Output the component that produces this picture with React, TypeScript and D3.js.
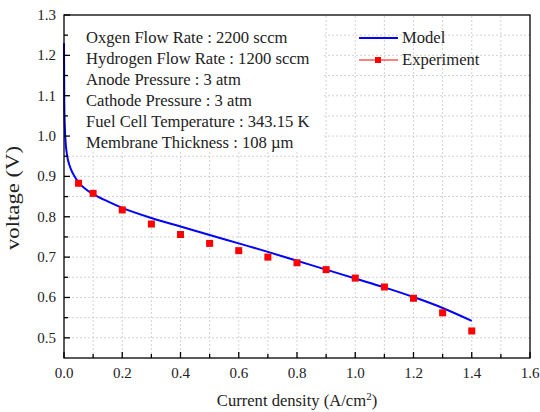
import React from "react";
import * as d3 from "d3";

// experiment points
const expX = [0.05, 0.1, 0.2, 0.3, 0.4, 0.5, 0.6, 0.7, 0.8, 0.9, 1.0, 1.1, 1.2, 1.3, 1.4];
const expY = [0.883, 0.858, 0.817, 0.782, 0.756, 0.734, 0.716, 0.700, 0.686, 0.669, 0.648, 0.626, 0.598, 0.562, 0.517];

// model curve
const modelX = [0, 0.001, 0.003, 0.005, 0.01, 0.02, 0.03, 0.05, 0.075, 0.1, 0.15, 0.2, 0.3, 0.4, 0.5, 0.6, 0.7, 0.8, 0.9, 1.0, 1.1, 1.2, 1.3, 1.4];
const modelY = [1.23, 1.08, 1.02, 0.99, 0.955, 0.925, 0.908, 0.885, 0.868, 0.856, 0.838, 0.822, 0.797, 0.776, 0.755, 0.734, 0.713, 0.691, 0.669, 0.647, 0.625, 0.601, 0.574, 0.542];

const xTicks = [0, 0.2, 0.4, 0.6, 0.8, 1.0, 1.2, 1.4, 1.6];
const xMinor = [0.1, 0.3, 0.5, 0.7, 0.9, 1.1, 1.3, 1.5];
const yTicks = [0.5, 0.6, 0.7, 0.8, 0.9, 1.0, 1.1, 1.2, 1.3];
const yMinor = [0.55, 0.65, 0.75, 0.85, 0.95, 1.05, 1.15, 1.25];

const notes = [
  "Oxgen Flow Rate : 2200 sccm",
  "Hydrogen Flow Rate : 1200 sccm",
  "Anode Pressure : 3 atm",
  "Cathode Pressure : 3 atm",
  "Fuel Cell Temperature : 343.15 K",
  "Membrane Thickness : 108 \u00b5m",
];

const W = 540, H = 412;
const m = { left: 64, right: 10, top: 15, bottom: 54 };
const font = "Liberation Serif";

export default function App() {
  const x = d3.scaleLinear().domain([0, 1.6]).range([m.left, W - m.right]);
  const y = d3.scaleLinear().domain([0.45, 1.3]).range([H - m.bottom, m.top]);
  const x0 = x(0), x1 = x(1.6), y0 = y(0.45), y1 = y(1.3);

  const line = d3.line<number>()
    .x((_, i) => x(modelX[i]))
    .y((d) => y(d))
    .curve(d3.curveMonotoneX);

  const gridX = [...xTicks, ...xMinor].filter((v) => v > 0 && v < 1.6);
  const gridY = [...yTicks, ...yMinor].filter((v) => v < 1.3);

  return (
    <svg width={W} height={H} style={{ position: "absolute", left: 0, top: 0 }}>
      <rect width={W} height={H} fill="#fff" />
      {/* grid */}
      <g stroke="#c8c8c8" strokeWidth={0.8} strokeDasharray="2,2">
        {gridX.map((v) => <line key={"gx" + v} x1={x(v)} x2={x(v)} y1={y0} y2={y1} />)}
        {gridY.map((v) => <line key={"gy" + v} x1={x0} x2={x1} y1={y(v)} y2={y(v)} />)}
      </g>
      {/* annotation box hides grid */}
      <rect x={x0} y={y1} width={x(0.89) - x0} height={y(0.965) - y1} fill="#fff" />
      {/* model */}
      <path d={line(modelY) || ""} fill="none" stroke="#0000ff" strokeWidth={2} />
      {/* experiment */}
      {expX.map((v, i) => (
        <rect key={"e" + i} x={x(v) - 3.5} y={y(expY[i]) - 3.5} width={7} height={7} fill="#ff0000" />
      ))}
      {/* frame */}
      <rect x={x0} y={y1} width={x1 - x0} height={y0 - y1} fill="none" stroke="#000" strokeWidth={1.3} />
      {/* ticks */}
      <g stroke="#000" strokeWidth={1.3}>
        {xTicks.map((v) => <line key={"tx" + v} x1={x(v)} x2={x(v)} y1={y0} y2={y0 - 6} />)}
        {xMinor.map((v) => <line key={"mx" + v} x1={x(v)} x2={x(v)} y1={y0} y2={y0 - 4} />)}
        {yTicks.map((v) => <line key={"ty" + v} x1={x0} x2={x0 + 6} y1={y(v)} y2={y(v)} />)}
        {yMinor.map((v) => <line key={"my" + v} x1={x0} x2={x0 + 4} y1={y(v)} y2={y(v)} />)}
      </g>
      {xTicks.map((v) => (
        <text key={"lx" + v} x={x(v)} y={y0 + 20} textAnchor="middle" fontSize={15} fill="#222" fontFamily={font}>{v.toFixed(1)}</text>
      ))}
      {yTicks.map((v) => (
        <text key={"ly" + v} x={x0 - 8} y={y(v) + 5} textAnchor="end" fontSize={15} fill="#222" fontFamily={font}>{v.toFixed(1)}</text>
      ))}
      {/* axis titles */}
      <text x={(x0 + x1) / 2} y={H - 6} textAnchor="middle" fontSize={16.6} fill="#222" fontFamily={font}>
        Current density (A/cm<tspan dy={-6} fontSize={11}>2</tspan><tspan dy={6}>)</tspan>
      </text>
      <text transform={`translate(19,198) rotate(-90)`} textAnchor="middle" fontSize={18} fill="#222"
        fontFamily={font} textLength={104} lengthAdjust="spacingAndGlyphs">voltage (V)</text>
      {/* notes */}
      {notes.map((t, i) => (
        <text key={"n" + i} x={86} y={43 + i * 21} fontSize={16.6} fill="#222" fontFamily={font}>{t}</text>
      ))}
      {/* legend */}
      <line x1={359} x2={398} y1={38} y2={38} stroke="#0000ff" strokeWidth={2} />
      <text x={402} y={43} fontSize={16.6} fill="#222" fontFamily={font}>Model</text>
      <line x1={359} x2={398} y1={60} y2={60} stroke="#ff0000" strokeWidth={1} />
      <rect x={375} y={57} width={6} height={6} fill="#ff0000" />
      <text x={402} y={65} fontSize={16.6} fill="#222" fontFamily={font}>Experiment</text>
    </svg>
  );
}
